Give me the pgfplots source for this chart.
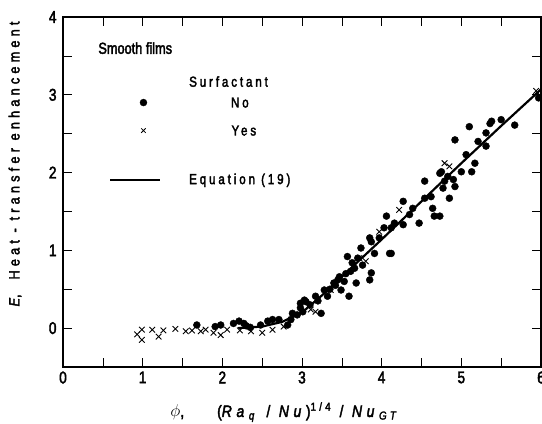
\documentclass[border=0pt]{standalone}
\usepackage{pgfplots}
\pgfplotsset{compat=1.18}
\usepackage{fontspec}
\setmainfont[FakeStretch=0.8,FakeBold=2.5]{Liberation Sans}
\newfontfamily\spaced[FakeStretch=0.8,FakeBold=2.5,LetterSpace=20]{Liberation Sans}
\newfontfamily\wide[FakeStretch=0.85,FakeBold=2.5,LetterSpace=28]{Liberation Sans}

\begin{document}
\begin{tikzpicture}
\begin{axis}[
  width=478bp, height=350bp, scale only axis,
  xmin=0, xmax=6, ymin=-0.5, ymax=4,
  xtick={0,...,6}, ytick={0,...,4},
  minor x tick num=1, minor y tick num=1,
  tick align=inside,
  major tick length=9bp, minor tick length=9bp,
  tick style={black, line width=0.6pt},
  axis line style={line width=1.3pt},
  ticklabel style={font=\fontsize{17}{19}\selectfont},
  /pgf/number format/assume math mode=true,
  xticklabel style={yshift=-1bp},
  yticklabel style={xshift=-3bp},
  xlabel={\wide\fontsize{16.5}{18}\selectfont {\LARGE$\phi$},\qquad (\textit{Ra}\textsubscript{\textit{q}} / \textit{Nu})\textsuperscript{1/4} / \textit{Nu}\textsubscript{\textit{GT}}},
  xlabel style={at={(axis description cs:0.465,-0.129)}, anchor=center},
  ylabel={\wide\fontsize{15}{17}\selectfont \textit{E},\quad Heat - transfer enhancement},
  ylabel style={at={(axis description cs:-0.1004,0.58)}, anchor=center},
]
% Equation (19)
\addplot[black, line width=2.2pt] coordinates {
  (2.2,0.0) (2.5,0.02) (2.75,0.08) (3.0,0.2) (3.25,0.42) (3.5,0.66)
  (3.75,0.9) (4.0,1.14) (4.5,1.63) (5.0,2.12) (5.5,2.6) (6.0,3.07)
};
% no surfactant
\addplot[only marks, mark=*, mark size=3.5pt, black] coordinates {
  (1.68,0.04) (1.91,0.02) (1.98,0.04) (2.14,0.06) (2.21,0.09) (2.27,0.06)
  (2.30,0.03) (2.35,0.01) (2.48,0.04) (2.57,0.09) (2.63,0.11) (2.71,0.11)
  (2.82,0.04) (2.86,0.11) (2.88,0.19) (2.94,0.17) (2.98,0.32) (3.05,0.34)
  (3.01,0.21) (3.03,0.36) (2.98,0.26) (3.10,0.30) (3.17,0.41) (3.20,0.35)
  (3.24,0.19) (3.28,0.49) (3.32,0.41) (3.35,0.50) (3.40,0.58) (3.42,0.55)
  (3.45,0.62) (3.47,0.66) (3.49,0.49) (3.53,0.60) (3.55,0.70) (3.57,0.92)
  (3.59,0.41) (3.61,0.73) (3.63,0.84) (3.66,0.77) (3.68,0.58) (3.70,0.90)
  (3.74,1.03) (3.76,0.81) (3.85,0.62) (3.87,0.71) (3.87,1.11) (3.91,0.96)
  (3.97,1.16) (4.03,1.29) (4.10,0.96) (3.85,1.16) (4.06,1.44) (4.12,1.29)
  (4.12,0.96) (4.16,1.35) (4.27,1.63) (4.27,1.33) (4.35,1.46) (4.39,1.54)
  (4.47,1.35) (4.54,1.89) (4.54,1.67) (4.62,1.69) (4.64,1.54) (4.66,1.44)
  (4.73,1.99) (4.73,1.44) (4.77,1.80) (4.79,1.89) (4.85,1.67) (4.83,1.95)
  (4.75,2.01) (4.90,1.91) (4.92,2.42) (4.92,1.82) (5.00,2.01) (5.06,2.23)
  (5.10,2.59) (5.13,2.01) (5.17,2.12) (5.21,2.40) (5.31,2.51) (5.31,2.34)
  (5.36,2.63) (5.38,2.66) (5.50,2.68) (5.67,2.61) (5.97,2.96)
};
% surfactant
\addplot[only marks, mark=x, mark size=4pt, black, line width=0.9pt] coordinates {
  (0.93,-0.08) (0.99,-0.02) (0.99,-0.15) (1.12,-0.02) (1.20,-0.11) (1.26,-0.03)
  (1.41,-0.01) (1.54,-0.04) (1.62,-0.03) (1.73,-0.04) (1.79,-0.02) (1.89,-0.06)
  (1.98,-0.09) (2.06,-0.02) (2.22,-0.03) (2.36,-0.04) (2.50,-0.06) (2.63,-0.02)
  (2.77,0.02) (3.11,0.24) (3.17,0.21) (3.36,0.49) (3.72,0.90) (3.80,0.86)
  (3.97,1.24) (4.22,1.52) (4.79,2.12) (4.85,2.08) (5.94,3.05)
};
% key
\addplot[only marks, mark=*, mark size=3.5pt, black] coordinates {(1.01,2.90)};
\addplot[only marks, mark=x, mark size=3.2pt, black, line width=0.8pt] coordinates {(1.01,2.54)};
\addplot[black, line width=2.2pt] coordinates {(0.59,1.90) (1.22,1.90)};
\node[anchor=west, font=\fontsize{16}{18}\selectfont] at (axis cs:0.40,3.6) {Smooth films};
\node[anchor=west, font=\spaced\fontsize{14.5}{16}\selectfont] at (axis cs:1.54,3.17) {Surfactant};
\node[font=\spaced\fontsize{14.5}{16}\selectfont] at (axis cs:2.22,2.90) {No};
\node[font=\spaced\fontsize{14.5}{16}\selectfont] at (axis cs:2.27,2.54) {Yes};
\node[anchor=west, font=\spaced\fontsize{14.5}{16}\selectfont] at (axis cs:1.54,1.90) {Equation (19)};
\end{axis}
\pgfresetboundingbox
\path[use as bounding box] (current axis.south west)++(-63bp,-57bp) rectangle ([shift={(1bp,17bp)}]current axis.north east);
\end{tikzpicture}
\end{document}
